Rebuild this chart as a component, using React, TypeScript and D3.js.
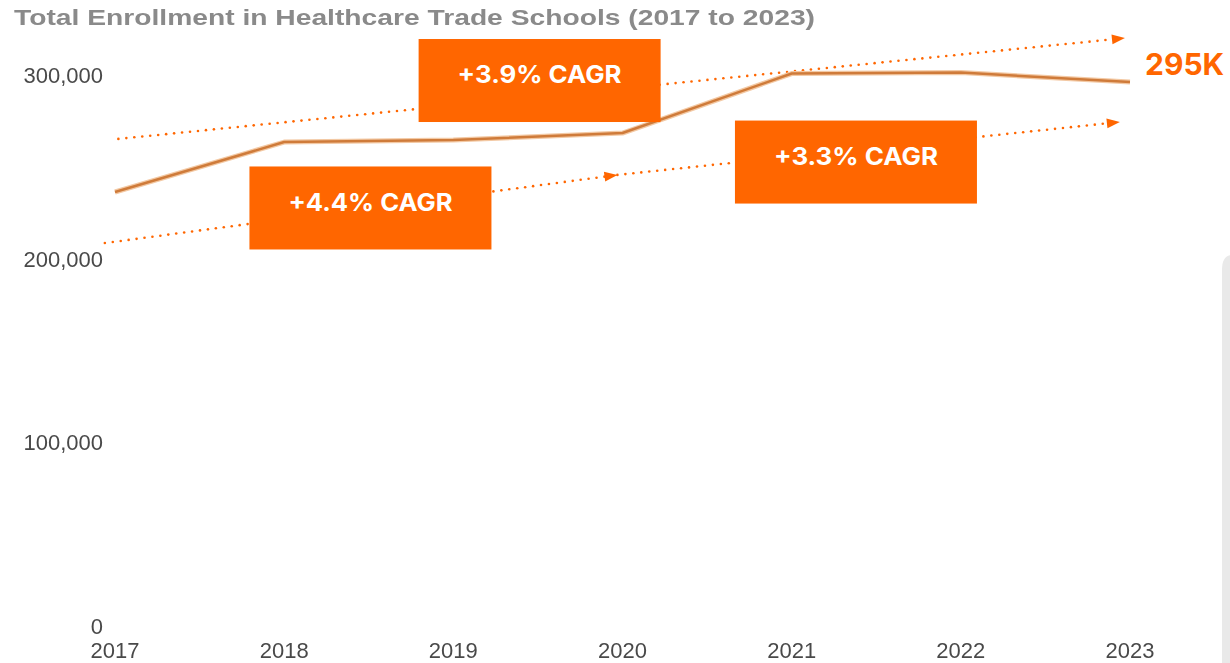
import React from 'react';
import * as d3 from 'd3';

const years = [2017, 2018, 2019, 2020, 2021, 2022, 2023];
const enrollment = [236300, 263500, 264600, 268400, 300800, 301300, 296200];
const yTicks = [0, 100000, 200000, 300000];

// trend arrows, in [year, value] units
const trendLines: [number, number, number, number][] = [
  [2017.02, 265200, 2022.97, 320100],
  [2016.94, 208500, 2019.97, 245600],
  [2019.97, 245600, 2022.94, 274400],
];
const cagrLabels = ['+3.9% CAGR', '+4.4% CAGR', '+3.3% CAGR'];
const cagrAnchors: [number, number][] = [
  [2019.51, 297000],
  [2018.51, 227600],
  [2021.38, 252600],
];
const endLabel = '295K';

const W = 1230;
const H = 663;
const ORANGE = '#ff6600';

const App: React.FC = () => {
  const x = d3.scaleLinear().domain([2017, 2023]).range([115, 1130]);
  const y = d3.scaleLinear().domain([0, 300000]).range([626, 75]);

  const line = d3.line<number>()
    .x((_, i) => x(years[i]))
    .y(d => y(d));

  const fmt = d3.format(',');
  const boxW = 242;
  const boxH = 83;

  const dots = (x1: number, y1: number, x2: number, y2: number) => {
    const px1 = x(x1), py1 = y(y1), px2 = x(x2), py2 = y(y2);
    const len = Math.hypot(px2 - px1, py2 - py1);
    const n = Math.floor((len - 10) / 8);
    const out: [number, number][] = [];
    for (let i = 0; i <= n; i++) {
      const t = (i * 8) / len;
      out.push([px1 + (px2 - px1) * t, py1 + (py2 - py1) * t]);
    }
    const ang = Math.atan2(py2 - py1, px2 - px1) * 180 / Math.PI;
    return { out, tip: [px2, py2], ang };
  };

  const last = enrollment.length - 1;

  return (
    <svg width={W} height={H} style={{ position: 'absolute', left: 0, top: 0, background: '#fff' }}
      fontFamily="'Liberation Sans', Arial, sans-serif">
      <defs>
        <filter id="soft"><feGaussianBlur stdDeviation="0.6" /></filter>
      </defs>

      <path d="M 1222 270 Q 1222 255 1232 255 L 1232 663 L 1222 663 Z" fill="#e9e9e9" />

      <text x={14} y={25} fontSize={22} fontWeight="bold" fill="#8a8a8a" filter="url(#soft)"
        textLength={801} lengthAdjust="spacingAndGlyphs">
        Total Enrollment in Healthcare Trade Schools (2017 to 2023)
      </text>

      <g fill="#4a4a4a" fontSize={22} filter="url(#soft)">
        {yTicks.map(t => (
          <text key={t} x={103} y={y(t)} dy="0.36em" textAnchor="end">{fmt(t)}</text>
        ))}
        {years.map(yr => (
          <text key={yr} x={x(yr)} y={658} textAnchor="middle">{yr}</text>
        ))}
      </g>

      {trendLines.map((l, i) => {
        const { out, tip, ang } = dots(l[0], l[1], l[2], l[3]);
        return (
          <g key={i} fill={ORANGE}>
            {out.map((p, j) => <circle key={j} cx={p[0]} cy={p[1]} r={1.3} />)}
            <path d="M 0 0 L -13 -5 L -13 5 Z" transform={`translate(${tip[0]},${tip[1]}) rotate(${ang})`} />
          </g>
        );
      })}

      <path d={line(enrollment) || ''} fill="none" stroke="#f3c9a4" strokeWidth={5} strokeLinejoin="round" />
      <path d={line(enrollment) || ''} fill="none" stroke="#cf7b3a" strokeWidth={2.5} strokeLinejoin="round" />

      {cagrLabels.map((lab, i) => {
        const cx = x(cagrAnchors[i][0]);
        const cy = y(cagrAnchors[i][1]);
        return (
          <g key={lab}>
            <rect x={cx - boxW / 2} y={cy - boxH / 2} width={boxW} height={boxH} fill={ORANGE} />
            <text x={cx} y={cy - 6} dy="0.36em" textAnchor="middle" fill="#fff"
              fontFamily="Inter, 'Open Sans', sans-serif" fontWeight="bold" fontSize={24}
              textLength={164} lengthAdjust="spacingAndGlyphs">{lab}</text>
          </g>
        );
      })}

      <text x={x(years[last]) + 15} y={y(enrollment[last]) - 18} dy="0.36em" fill={ORANGE}
        fontFamily="Inter, 'Open Sans', sans-serif" fontWeight="bold" fontSize={30}>{endLabel}</text>
    </svg>
  );
};

export default App;
